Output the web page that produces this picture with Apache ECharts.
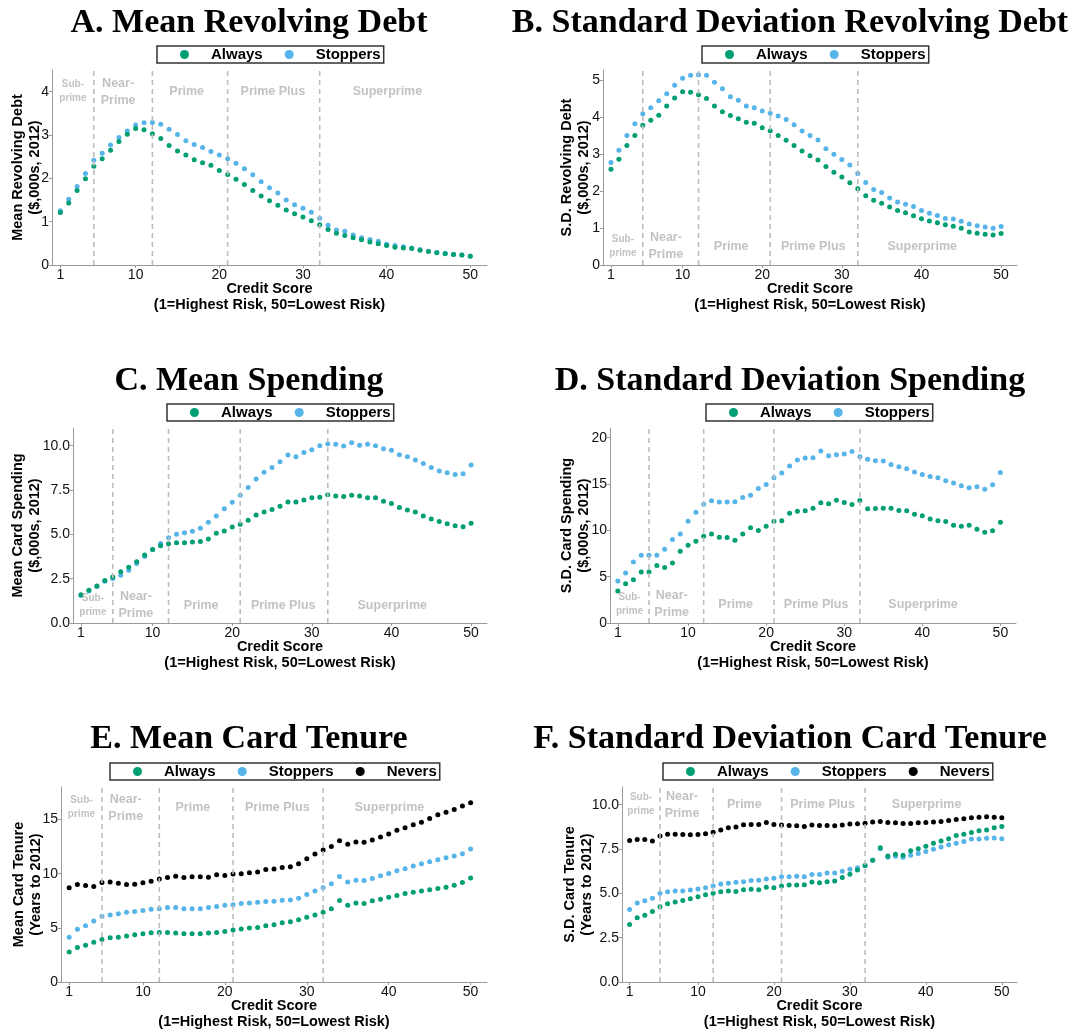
<!DOCTYPE html>
<html>
<head>
<meta charset="utf-8">
<script src="https://cdn.jsdelivr.net/npm/echarts@6/dist/echarts.min.js"></script>
<style>
  html, body { margin: 0; padding: 0; background: #ffffff; }
  #chart { width: 1088px; height: 1032px; }
</style>
</head>
<body>
<div id="chart"></div>
<script>
// Credit score bins (1 = highest risk, 50 = lowest risk)
const creditScore = [1,2,3,4,5,6,7,8,9,10,11,12,13,14,15,16,17,18,19,20,21,22,23,24,25,
  26,27,28,29,30,31,32,33,34,35,36,37,38,39,40,41,42,43,44,45,46,47,48,49,50];
const xTickValues = [1, 10, 20, 30, 40, 50];

// Borders between credit-score regions and their names
const regionCuts = [5, 12, 21, 32];
const regionNames = ['Sub-\nprime', 'Near-\nPrime', 'Prime', 'Prime Plus', 'Superprime'];

// Mean revolving debt ($,000s, 2012)
const meanDebtAlways = [1.21,1.43,1.72,1.99,2.28,2.45,2.65,2.85,3.02,3.15,
  3.12,3.03,2.92,2.76,2.63,2.54,2.43,2.36,2.30,2.18,
  2.09,1.98,1.86,1.72,1.59,1.48,1.38,1.27,1.18,1.11,
  1.02,0.93,0.82,0.73,0.68,0.63,0.58,0.53,0.49,0.45,
  0.41,0.39,0.38,0.34,0.31,0.28,0.26,0.24,0.23,0.20];
const meanDebtStoppers = [1.25,1.52,1.81,2.11,2.42,2.58,2.77,2.94,3.09,3.23,
  3.28,3.29,3.25,3.13,3.01,2.87,2.78,2.71,2.62,2.54,
  2.45,2.35,2.22,2.08,1.92,1.78,1.66,1.50,1.39,1.31,
  1.22,1.08,0.92,0.81,0.78,0.69,0.63,0.59,0.55,0.48,
  0.45,0.42,0.39,0.36,0.32,0.29,0.27,0.25,0.23,0.21];

// Standard deviation of revolving debt ($,000s, 2012)
const sdDebtAlways = [2.59,2.86,3.23,3.50,3.78,3.91,4.05,4.30,4.51,4.68,
  4.67,4.60,4.50,4.30,4.14,4.04,3.95,3.86,3.83,3.71,
  3.63,3.50,3.37,3.23,3.08,2.95,2.84,2.66,2.51,2.38,
  2.22,2.06,1.87,1.75,1.67,1.57,1.47,1.41,1.33,1.25,
  1.19,1.14,1.09,1.05,0.99,0.89,0.86,0.83,0.81,0.85];
const sdDebtStoppers = [2.77,3.10,3.50,3.82,4.09,4.25,4.44,4.63,4.86,5.05,
  5.13,5.14,5.13,4.94,4.76,4.55,4.45,4.30,4.25,4.16,
  4.10,4.03,3.93,3.79,3.62,3.50,3.38,3.14,2.99,2.85,
  2.70,2.47,2.23,2.04,1.96,1.81,1.70,1.64,1.58,1.47,
  1.40,1.34,1.26,1.24,1.18,1.11,1.06,1.03,0.99,1.04];

// Mean card spending ($,000s, 2012)
const meanSpendAlways = [1.60,1.85,2.09,2.40,2.60,2.89,3.15,3.45,3.83,4.15,
  4.36,4.47,4.53,4.53,4.57,4.60,4.74,5.06,5.19,5.42,
  5.57,5.79,6.09,6.26,6.40,6.58,6.83,6.83,6.94,7.06,
  7.09,7.23,7.17,7.13,7.21,7.17,7.06,7.06,6.87,6.74,
  6.51,6.38,6.26,6.04,5.87,5.72,5.60,5.49,5.43,5.62];
const meanSpendStoppers = [1.55,1.80,2.06,2.35,2.51,2.70,2.98,3.36,3.75,4.15,
  4.49,4.81,5.00,5.09,5.17,5.34,5.68,6.04,6.45,6.81,
  7.21,7.64,8.13,8.51,8.77,9.09,9.47,9.38,9.62,9.77,
  10.00,10.11,10.09,9.98,10.17,10.02,10.08,10.00,9.83,9.75,
  9.49,9.38,9.19,9.00,8.77,8.58,8.47,8.38,8.42,8.91];

// Standard deviation of card spending ($,000s, 2012)
const sdSpendAlways = [3.46,4.25,4.68,5.51,5.51,6.20,5.98,6.49,7.75,8.40,
  8.83,9.37,9.62,9.26,9.23,8.94,9.62,10.27,9.98,10.45,
  10.99,11.03,11.86,12.07,12.11,12.40,12.97,12.86,13.26,13.01,
  12.79,13.23,12.32,12.36,12.40,12.40,12.14,12.11,11.75,11.57,
  11.24,11.03,10.95,10.56,10.45,10.56,10.13,9.80,9.95,10.88];
const sdSpendStoppers = [4.54,5.41,6.59,7.32,7.32,7.32,7.96,9.01,9.62,10.99,
  11.96,12.83,13.19,13.05,13.05,13.08,13.55,13.80,14.52,14.95,
  15.68,16.18,16.94,17.59,17.80,17.84,18.56,18.05,18.16,18.23,
  18.52,17.95,17.69,17.51,17.48,17.12,16.86,16.65,16.29,16.04,
  15.82,15.68,15.35,15.10,14.81,14.59,14.70,14.45,14.92,16.25];

// Mean card tenure (years to 2012)
const meanTenureAlways = [2.78,3.19,3.40,3.68,3.93,4.08,4.14,4.24,4.36,4.45,
  4.55,4.58,4.58,4.52,4.45,4.45,4.45,4.52,4.58,4.67,
  4.79,4.89,4.98,5.04,5.20,5.29,5.47,5.57,5.75,5.97,
  6.19,6.43,6.77,7.52,7.08,7.30,7.24,7.49,7.64,7.83,
  7.98,8.17,8.29,8.41,8.51,8.63,8.75,8.94,9.19,9.59];
const meanTenureStoppers = [4.14,4.86,5.20,5.63,6.06,6.19,6.31,6.43,6.50,6.59,
  6.71,6.77,6.87,6.87,6.77,6.77,6.77,6.87,6.96,7.08,
  7.14,7.24,7.30,7.36,7.42,7.45,7.55,7.58,7.73,8.07,
  8.41,8.69,9.06,9.74,9.22,9.40,9.37,9.56,9.81,10.02,
  10.27,10.45,10.70,10.92,11.10,11.29,11.48,11.63,11.85,12.28];
const meanTenureNevers = [8.69,9.00,8.91,8.82,9.19,9.22,9.12,9.00,9.03,9.16,
  9.31,9.50,9.65,9.77,9.65,9.71,9.71,9.68,9.90,9.84,
  9.96,9.99,10.08,10.15,10.39,10.42,10.58,10.64,10.92,11.38,
  11.82,12.19,12.50,13.05,12.71,12.93,12.90,13.11,13.39,13.67,
  14.01,14.23,14.51,14.75,15.09,15.43,15.68,15.93,16.24,16.55];

// Standard deviation of card tenure (years to 2012)
const sdTenureAlways = [3.25,3.62,3.77,3.98,4.25,4.42,4.51,4.60,4.70,4.81,
  4.92,5.00,5.09,5.13,5.11,5.21,5.23,5.21,5.34,5.32,
  5.42,5.47,5.47,5.49,5.64,5.60,5.66,5.70,5.89,6.08,
  6.32,6.57,6.87,7.58,7.11,7.21,7.15,7.40,7.51,7.66,
  7.83,7.96,8.08,8.26,8.34,8.43,8.53,8.58,8.70,8.77];
const sdTenureStoppers = [4.09,4.45,4.58,4.72,5.00,5.09,5.13,5.13,5.19,5.25,
  5.32,5.42,5.53,5.57,5.62,5.66,5.72,5.74,5.81,5.85,
  5.94,5.94,5.96,5.94,6.06,6.06,6.15,6.15,6.25,6.36,
  6.45,6.57,6.87,7.51,7.04,7.09,7.04,7.15,7.25,7.36,
  7.49,7.62,7.74,7.83,7.92,8.06,8.06,8.11,8.13,8.08];
const sdTenureNevers = [7.98,8.04,8.04,7.96,8.23,8.34,8.34,8.32,8.30,8.32,
  8.36,8.45,8.57,8.70,8.74,8.87,8.89,8.89,9.00,8.89,
  8.85,8.83,8.81,8.77,8.85,8.83,8.83,8.81,8.85,8.91,
  8.92,8.96,9.02,9.06,9.00,8.98,8.94,8.94,8.98,9.00,
  9.02,9.06,9.11,9.17,9.21,9.26,9.30,9.32,9.30,9.26];

// ---- styling ----
const SANS = "'Liberation Sans', Arial, Helvetica, sans-serif";
const SERIF = "'Liberation Serif', 'Times New Roman', serif";
const groupColors = { Always: '#009E73', Stoppers: '#56B4E9', Nevers: '#000000' };
const legendOrder = ['Always', 'Stoppers', 'Nevers'];
const drawOrder = ['Nevers', 'Stoppers', 'Always'];
const AXIS_GREY = '#9a9a9a';
const REGION_GREY = '#b3b3b3';
const regionLabelX = [2.5, 7.9, 16.1, 26.4, 40.1];
const xName = 'Credit Score\n(1=Highest Risk, 50=Lowest Risk)';

const panels = [
  { title: 'A. Mean Revolving Debt', cx: 249, cy: 23,
    grid: { left: 52, top: 70, width: 435, height: 195 },
    yMax: 4.5, yTicks: [0, 1, 2, 3, 4], decimals: 0,
    yName: 'Mean Revolving Debt\n($,000s, 2012)', yNameGap: 8.5,
    legend: { left: 157, top: 46 }, labelY: 4.0,
    groups: { Always: meanDebtAlways, Stoppers: meanDebtStoppers } },
  { title: 'B. Standard Deviation Revolving Debt', cx: 790, cy: 23,
    grid: { left: 603, top: 70, width: 414, height: 195 },
    yMax: 5.27, yTicks: [0, 1, 2, 3, 4, 5], decimals: 0,
    yName: 'S.D. Revolving Debt\n($,000s, 2012)', yNameGap: 10.5,
    legend: { left: 702, top: 46 }, labelY: 0.5,
    groups: { Always: sdDebtAlways, Stoppers: sdDebtStoppers } },
  { title: 'C. Mean Spending', cx: 249, cy: 381,
    grid: { left: 73, top: 428, width: 414, height: 195 },
    yMax: 11, yTicks: [0, 2.5, 5, 7.5, 10], decimals: 1,
    yName: 'Mean Card Spending\n($,000s, 2012)', yNameGap: 29.5,
    legend: { left: 167, top: 404 }, labelY: 1.0,
    groups: { Always: meanSpendAlways, Stoppers: meanSpendStoppers } },
  { title: 'D. Standard Deviation Spending', cx: 790, cy: 381,
    grid: { left: 610, top: 428, width: 406, height: 195 },
    yMax: 21.05, yTicks: [0, 5, 10, 15, 20], decimals: 0,
    yName: 'S.D. Card Spending\n($,000s, 2012)', yNameGap: 17.5,
    legend: { left: 706, top: 404 }, labelY: 2.0,
    groups: { Always: sdSpendAlways, Stoppers: sdSpendStoppers } },
  { title: 'E. Mean Card Tenure', cx: 249, cy: 739.5,
    grid: { left: 61, top: 787, width: 426, height: 195 },
    yMax: 18, yTicks: [0, 5, 10, 15], decimals: 0,
    yName: 'Mean Card Tenure\n(Years to 2012)', yNameGap: 17,
    legend: { left: 110, top: 763 }, labelY: 16.1,
    groups: { Always: meanTenureAlways, Stoppers: meanTenureStoppers, Nevers: meanTenureNevers } },
  { title: 'F. Standard Deviation Card Tenure', cx: 790, cy: 739.5,
    grid: { left: 622, top: 787, width: 395, height: 195 },
    yMax: 11, yTicks: [0, 2.5, 5, 7.5, 10], decimals: 1,
    yName: 'S.D. Card Tenure\n(Years to 2012)', yNameGap: 27,
    legend: { left: 663, top: 763 }, labelY: 10.0,
    groups: { Always: sdTenureAlways, Stoppers: sdTenureStoppers, Nevers: sdTenureNevers } }
];

const grids = [], xAxes = [], yAxes = [], series = [], legends = [], graphics = [];

panels.forEach((p, i) => {
  grids.push(Object.assign({ outerBoundsMode: 'none', containLabel: false }, p.grid));

  xAxes.push({
    type: 'value', gridIndex: i, min: 0, max: 52,
    name: xName, nameLocation: 'middle', nameGap: 16, nameMoveOverlap: false,
    nameTextStyle: { fontFamily: SANS, fontWeight: 'bold', fontSize: 14.5, lineHeight: 16, color: '#000' },
    axisLine: { show: true, onZero: false, lineStyle: { color: AXIS_GREY, width: 1 } },
    axisTick: { show: true, length: 3, customValues: xTickValues, lineStyle: { color: AXIS_GREY } },
    axisLabel: { customValues: xTickValues, margin: 3, fontFamily: SANS, fontSize: 14, color: '#111' },
    splitLine: { show: false }
  });

  yAxes.push({
    type: 'value', gridIndex: i, min: 0, max: p.yMax,
    name: p.yName, nameLocation: 'middle', nameGap: p.yNameGap, nameMoveOverlap: false,
    nameTextStyle: { fontFamily: SANS, fontWeight: 'bold', fontSize: 14.5, lineHeight: 17, color: '#000' },
    axisLine: { show: true, onZero: false, lineStyle: { color: AXIS_GREY, width: 1 } },
    axisTick: { show: true, length: 3, customValues: p.yTicks, lineStyle: { color: AXIS_GREY } },
    axisLabel: { customValues: p.yTicks, margin: 3, fontFamily: SANS, fontSize: 14, color: '#111',
      formatter: v => Number(v).toFixed(p.decimals) },
    splitLine: { show: false }
  });

  // points for each group; "Always" drawn last so it sits on top
  drawOrder.forEach(g => {
    if (!p.groups[g]) return;
    series.push({
      type: 'scatter', name: g, xAxisIndex: i, yAxisIndex: i,
      symbol: 'circle', symbolSize: 5, z: 2,
      itemStyle: { color: groupColors[g], opacity: 1 },
      data: creditScore.map((x, k) => [x, p.groups[g][k]])
    });
  });

  // dashed region borders, drawn above the points
  regionCuts.forEach(c => {
    series.push({
      type: 'line', xAxisIndex: i, yAxisIndex: i, z: 3, silent: true,
      symbol: 'none',
      lineStyle: { color: '#bdbdbd', width: 1.6, type: [5, 4] },
      data: [[c, 0], [c, p.yMax]]
    });
  });

  // region names
  series.push({
    type: 'scatter', xAxisIndex: i, yAxisIndex: i, z: 4, silent: true,
    symbol: 'circle', symbolSize: 1, itemStyle: { color: 'rgba(0,0,0,0)' },
    label: { show: true, position: 'inside', formatter: '{b}', fontFamily: SANS, fontWeight: 'bold',
      fontSize: 12.5, lineHeight: 17, color: REGION_GREY, align: 'center' },
    data: regionNames.map((n, k) => {
      const item = { name: n, value: [regionLabelX[k], p.labelY] };
      if (k === 0) item.label = { fontSize: 10, lineHeight: 14 };
      return item;
    })
  });

  legends.push({
    left: p.legend.left, top: p.legend.top, orient: 'horizontal',
    data: legendOrder.filter(g => p.groups[g]),
    icon: 'circle', itemWidth: 9, itemHeight: 9, itemGap: 22,
    padding: [1, 3, 1, 23], borderColor: '#333', borderWidth: 1.5, borderRadius: 0,
    selectedMode: false,
    textStyle: { fontFamily: SANS, fontWeight: 'bold', fontSize: 15, color: '#000', padding: [0, 0, 0, 17] }
  });

  graphics.push({
    type: 'text', x: p.cx, y: p.cy,
    style: { text: p.title, fontFamily: SERIF, fontWeight: 'bold', fontSize: 34, fill: '#000',
      align: 'center', verticalAlign: 'middle' }
  });
});

const chart = echarts.init(document.getElementById('chart'), null, { renderer: 'canvas', width: 1088, height: 1032 });
chart.setOption({
  animation: false,
  backgroundColor: '#ffffff',
  grid: grids,
  xAxis: xAxes,
  yAxis: yAxes,
  legend: legends,
  series: series,
  graphic: graphics
});
</script>
</body>
</html>
